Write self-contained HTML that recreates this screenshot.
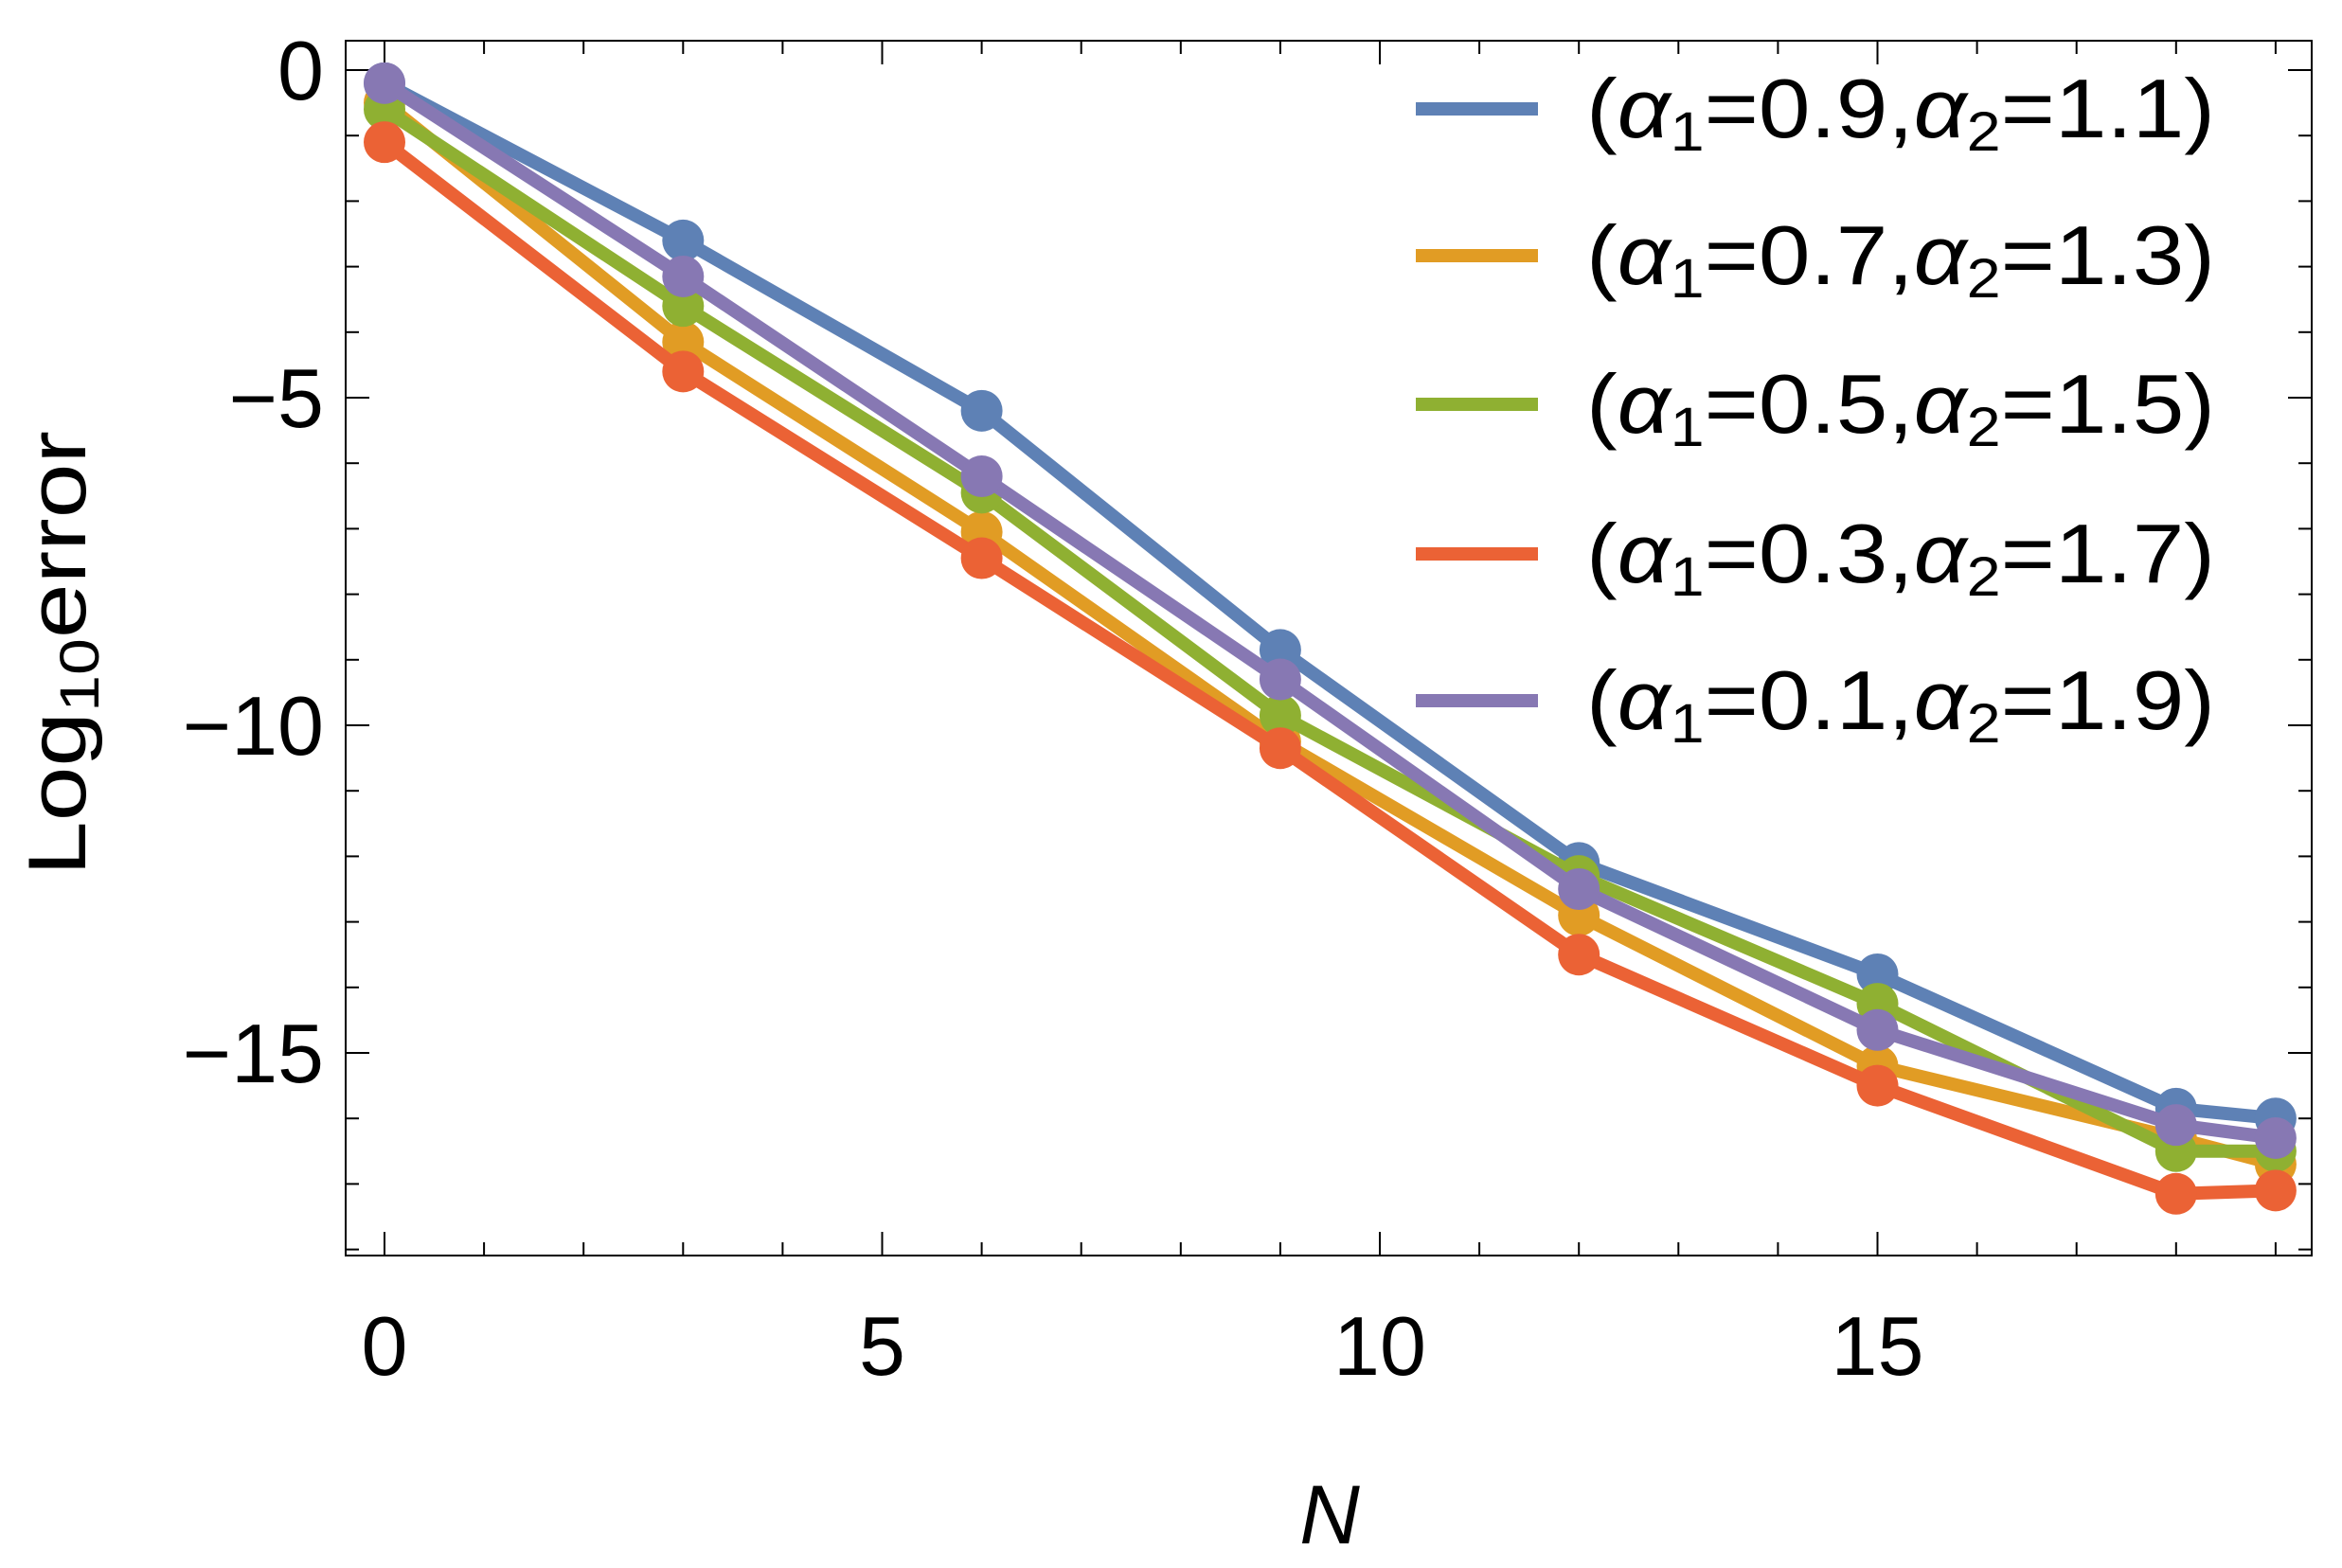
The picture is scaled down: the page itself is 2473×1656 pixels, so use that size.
<!DOCTYPE html>
<html><head><meta charset="utf-8"><style>
html,body{margin:0;padding:0;background:#fff;}
svg{display:block;font-family:"Liberation Sans",sans-serif;}
</style></head><body>
<svg id="chart" width="2473" height="1656" viewBox="0 0 2473 1656" xmlns="http://www.w3.org/2000/svg">
<g id="axes"></g>
<g id="series"></g>
<g id="legend"></g>
<text transform="translate(90,690) rotate(-90)" text-anchor="middle" font-size="86" textLength="470" lengthAdjust="spacingAndGlyphs">Log<tspan font-size="58" dy="14">10</tspan><tspan dy="-14">error</tspan></text>
<text x="1404" y="1630" text-anchor="middle" font-size="88" font-style="italic">N</text>
</svg>
<script>
const xValues = [0, 3, 6, 9, 12, 15, 18, 19];
const seriesBlue = [-0.2, -2.6, -5.2, -8.85, -12.1, -13.8, -15.85, -16.0];
const seriesOrange = [-0.5, -4.15, -7.05, -10.25, -12.9, -15.2, -16.3, -16.7];
const seriesGreen = [-0.6, -3.6, -6.45, -9.85, -12.3, -14.25, -16.5, -16.5];
const seriesRed = [-1.1, -4.6, -7.45, -10.35, -13.5, -15.5, -17.15, -17.1];
const seriesPurple = [-0.2, -3.15, -6.2, -9.3, -12.5, -14.65, -16.1, -16.3];
const legendA1 = ["0.9", "0.7", "0.5", "0.3", "0.1"];
const legendA2 = ["1.1", "1.3", "1.5", "1.7", "1.9"];
const xTickLabels = ["0", "5", "10", "15"];
const yTickLabels = ["0", "\u22125", "\u221210", "\u221215"];

const NS = "http://www.w3.org/2000/svg";
const L = 365, R = 2441, T = 43, B = 1326;
function sx(v){ return 406 + v * 105.1; }
function sy(v){ return 74 - v * 69.2; }
function mk(tag, attrs, parent){
  const e = document.createElementNS(NS, tag);
  for (const k in attrs) e.setAttribute(k, attrs[k]);
  parent.appendChild(e); return e;
}
const axes = document.getElementById('axes');
const frame = mk('rect', {x:L, y:T, width:R-L, height:B-T, fill:'none', stroke:'#000', 'stroke-width':2}, axes);


for (let i = 0; i <= 19; i++) {
  const major = i % 5 === 0;
  const len = major ? 25 : 14;
  const x = sx(i);
  const tb = mk('line', {x1:x, x2:x, y1:B, y2:B-len, stroke:'#000', 'stroke-width':2}, axes);
  
  
  const tt = mk('line', {x1:x, x2:x, y1:T, y2:T+len, stroke:'#000', 'stroke-width':2}, axes);
  
  
}
xTickLabels.forEach((lab, i) => {
  const t = mk('text', {x:sx(i*5), y:1452, 'text-anchor':'middle', 'font-size':88}, axes);
  t.textContent = lab;
  
  
});
for (let v = 0; v >= -18; v--) {
  const major = v % 5 === 0;
  const len = major ? 25 : 14;
  const y = sy(v);
  const tl = mk('line', {x1:L, x2:L+len, y1:y, y2:y, stroke:'#000', 'stroke-width':2}, axes);
  
  
  const tr = mk('line', {x1:R, x2:R-len, y1:y, y2:y, stroke:'#000', 'stroke-width':2}, axes);
  
  
}
yTickLabels.forEach((lab, i) => {
  const t = mk('text', {x:342, y:sy(-i*5)+31, 'text-anchor':'end', 'font-size':88}, axes);
  t.textContent = lab;
  
  
});

const allSeries = [
  {name:'blue', vals:seriesBlue, color:'#5E81B5'},
  {name:'orange', vals:seriesOrange, color:'#E19C24'},
  {name:'green', vals:seriesGreen, color:'#8FB032'},
  {name:'red', vals:seriesRed, color:'#EB6235'},
  {name:'purple', vals:seriesPurple, color:'#8778B3'}
];
const sg = document.getElementById('series');
allSeries.forEach(s => {
  const g = mk('g', {}, sg);
  
  
  const pts = s.vals.map((v, i) => sx(xValues[i]) + ',' + sy(v)).join(' ');
  const pl = mk('polyline', {points:pts, fill:'none', stroke:s.color, 'stroke-width':14, 'stroke-linejoin':'round'}, g);
  
  
  s.vals.forEach((v, i) => {
    const c = mk('circle', {cx:sx(xValues[i]), cy:sy(v), r:22, fill:s.color}, g);
    
    
  });
});

const lg = document.getElementById('legend');
const rowY = [115, 270, 427, 585, 740];
allSeries.forEach((s, i) => {
  const g = mk('g', {}, lg);
  
  
  const ln = mk('line', {x1:1495, x2:1624, y1:rowY[i], y2:rowY[i], stroke:s.color, 'stroke-width':14}, g);
  
  
  const t = mk('text', {x:1675, y:rowY[i]+30, 'font-size':88, textLength:664, lengthAdjust:'spacingAndGlyphs'}, g);
  
  
  t.innerHTML = '(<tspan font-style="italic">α</tspan><tspan font-size="58" dy="14">1</tspan><tspan dy="-14">=' + legendA1[i] + ',</tspan><tspan font-style="italic">α</tspan><tspan font-size="58" dy="14">2</tspan><tspan dy="-14">=' + legendA2[i] + ')</tspan>';
});
</script>
</body></html>
